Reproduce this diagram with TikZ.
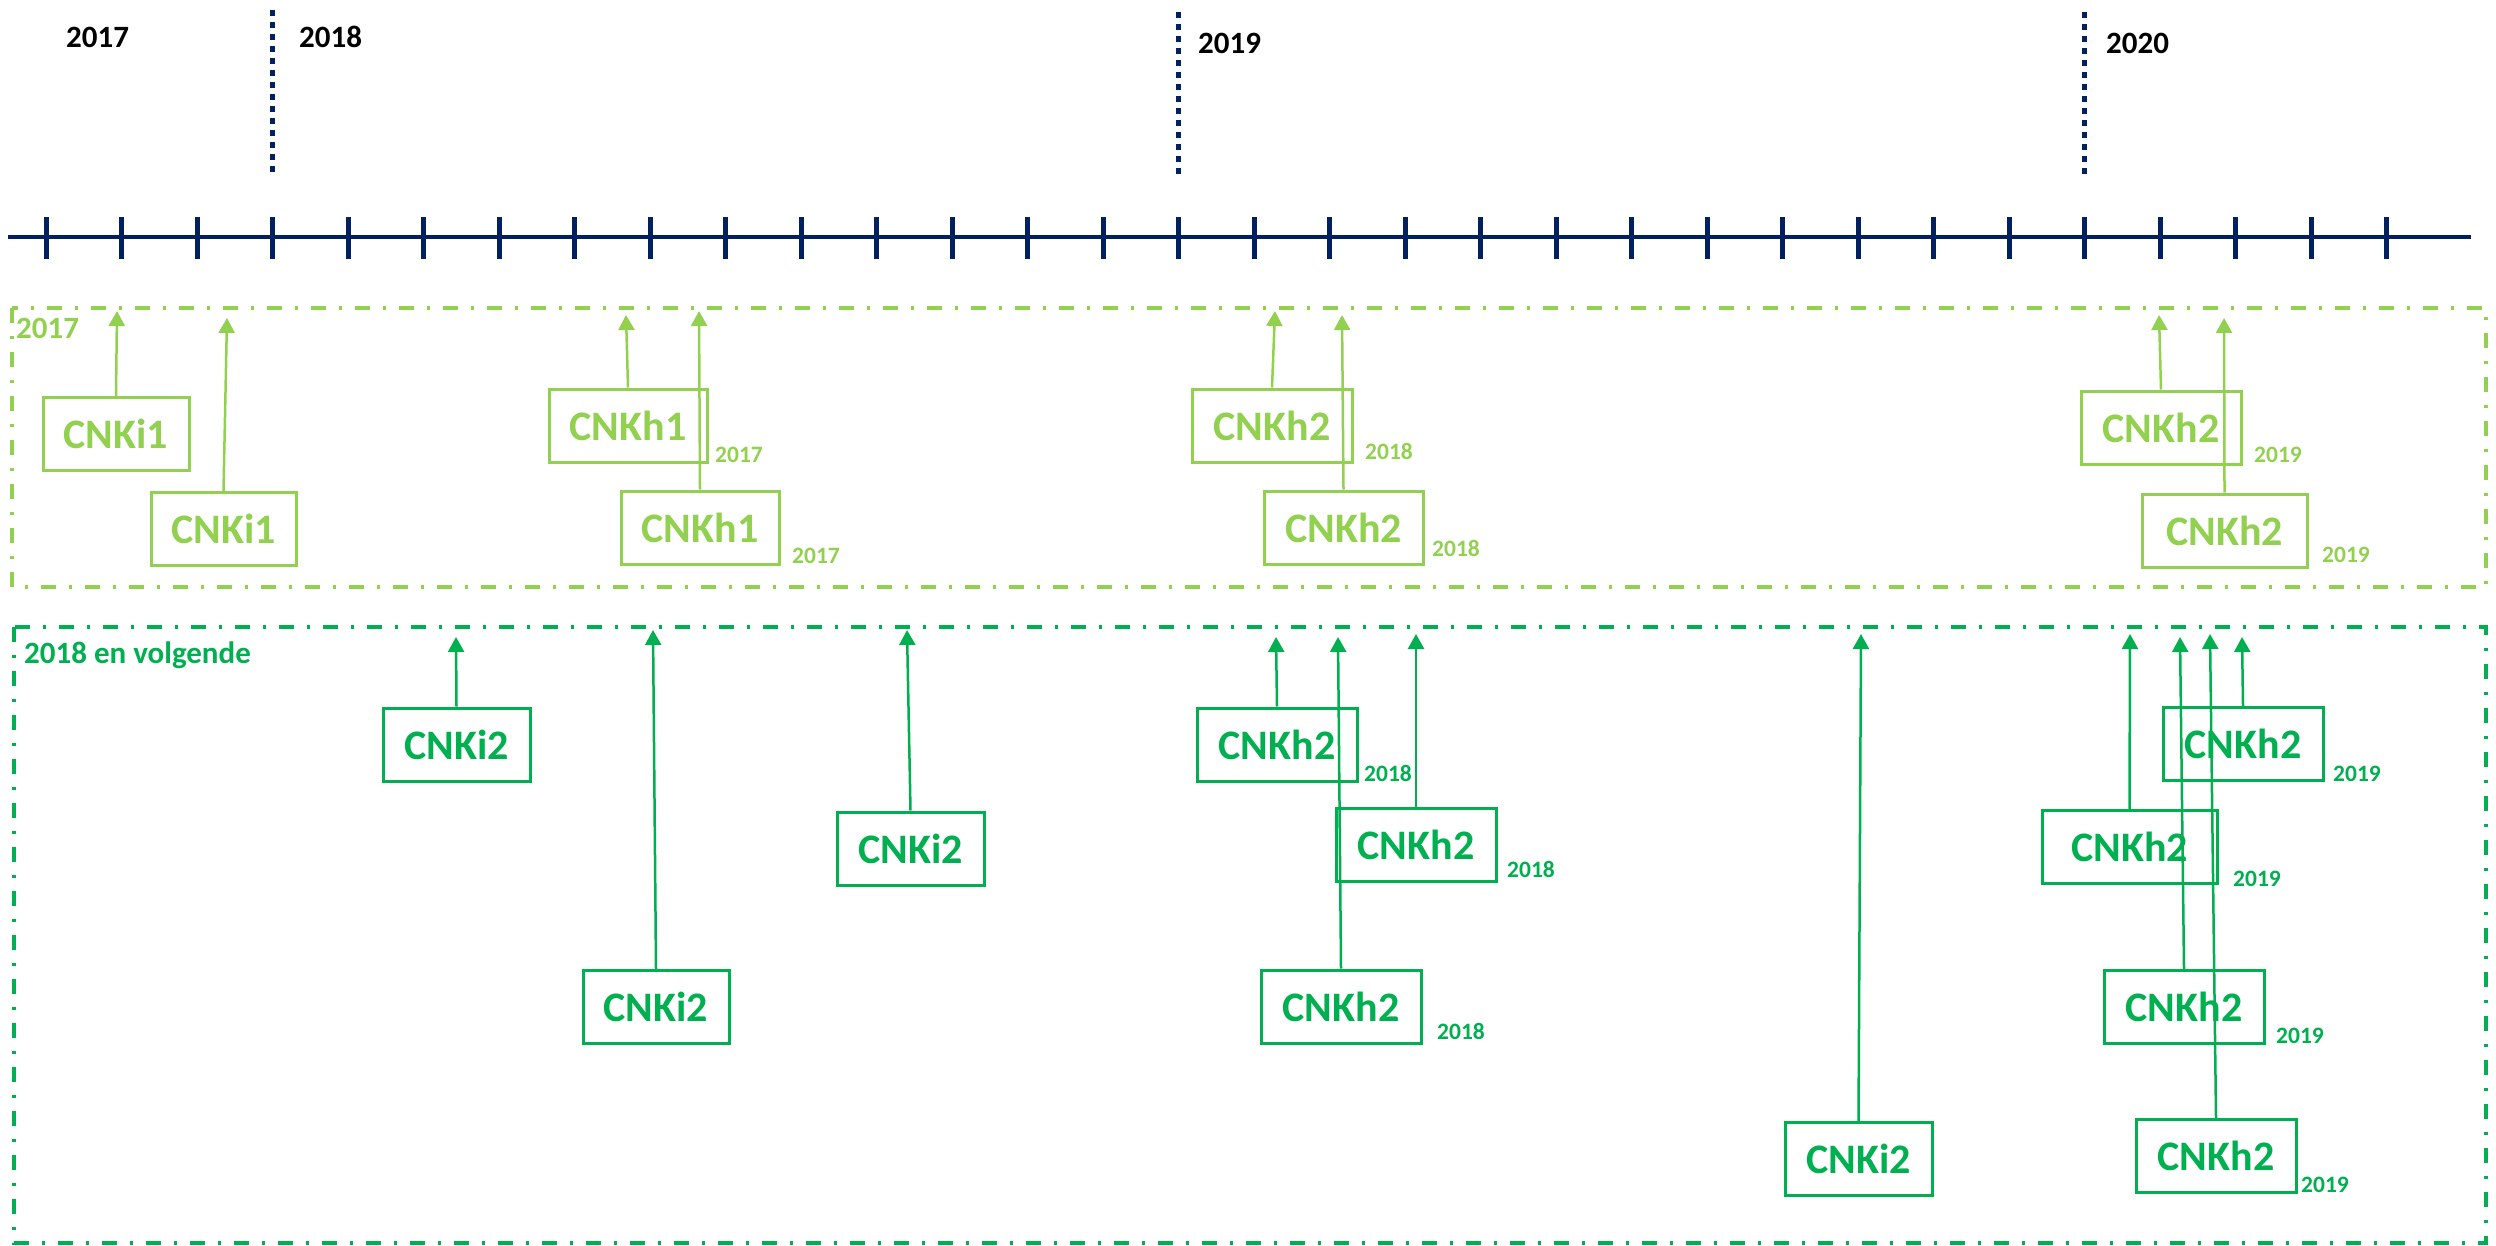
\documentclass[tikz,border=0pt]{standalone}
\usepackage{fontspec}
\setmainfont{Carlito}
\usetikzlibrary{arrows.meta}

\definecolor{navy}{HTML}{002060}
\definecolor{lightg}{HTML}{92D050}
\definecolor{darkg}{HTML}{00B050}

\tikzset{
  px/.style={x=1pt,y=-1pt},
  frame/.style={line width=4pt, dash pattern=on 15pt off 13pt on 3pt off 13pt},
  yearline/.style={draw=navy, line width=5pt, dash pattern=on 6pt off 6pt},
  yearlbl/.style={anchor=base west, inner sep=0pt, font=\fontsize{31}{37}\selectfont\bfseries},
  boxbase/.style={draw, line width=3pt, inner sep=0pt, minimum height=73pt,
    font=\fontsize{42}{50}\selectfont\bfseries},
  lbox/.style={boxbase, draw=lightg, text=lightg},
  dbox/.style={boxbase, draw=darkg, text=darkg},
  sub/.style={anchor=base west, inner sep=0pt, font=\fontsize{23.5}{28}\selectfont\bfseries},
  larr/.style={draw=lightg, line width=2.5pt, -{Triangle[length=15pt,width=16pt]}},
  darr/.style={draw=darkg, line width=2.5pt, -{Triangle[length=15pt,width=16pt]}},
}

\begin{document}
\begin{tikzpicture}[px]
\useasboundingbox (0,0) rectangle (2496,1246);

% time axis with monthly ticks
\draw[navy, line width=3.5pt] (8,237) -- (2471,237);
\foreach \i in {0,...,31}
  \draw[navy, line width=5pt] ({46+75.5*\i},217) -- ({46+75.5*\i},259);

% year separators
\draw[yearline] (272.5,10) -- (272.5,176);
\draw[yearline] (1178.5,12) -- (1178.5,178);
\draw[yearline] (2084.5,12) -- (2084.5,178);
\node[yearlbl] (y17) at (66,48) {2017};
\node[yearlbl] (y18) at (299,48) {2018};
\node[yearlbl] (y19) at (1198,54) {2019};
\node[yearlbl] (y20) at (2106,54) {2020};

% section frames
\draw[frame, lightg] (12,308) rectangle (2486,587);
\node[yearlbl, text=lightg] (s17) at (16,338) {2017};
\draw[frame, darkg] (14,627) rectangle (2486,1243);
\node[yearlbl, text=darkg] (s18) at (24,663) {2018 en volgende};

% --- 2017 section ---
\node[lbox, minimum width=146pt] (li1a) at (116,434) {CNKi1};
\node[lbox, minimum width=145pt] (li1b) at (223.5,529) {CNKi1};
\node[lbox, minimum width=158pt] (lh1a) at (628,425.5) {CNKh1};
\node[lbox, minimum width=158pt] (lh1b) at (700,527.5) {CNKh1};
\node[lbox, minimum width=160pt] (lh2a) at (1272,425.5) {CNKh2};
\node[lbox, minimum width=159pt] (lh2b) at (1343.5,527.5) {CNKh2};
\node[lbox, minimum width=160pt] (lh2c) at (2161,427.5) {CNKh2};
\node[lbox, minimum width=165pt] (lh2d) at (2224.5,530.5) {CNKh2};

\node[sub, text=lightg] (ls1) at (715,462) {2017};
\node[sub, text=lightg] (ls2) at (792,563) {2017};
\node[sub, text=lightg] (ls3) at (1365,459) {2018};
\node[sub, text=lightg] (ls4) at (1432,556) {2018};
\node[sub, text=lightg] (ls5) at (2254,462) {2019};
\node[sub, text=lightg] (ls6) at (2322,562) {2019};

\coordinate (lt1) at (117,311);
\coordinate (lt2) at (227,318);
\coordinate (lt3) at (626,315);
\coordinate (lt4) at (699,311);
\coordinate (lt5) at (1275,311);
\coordinate (lt6) at (1342,315);
\coordinate (lt7) at (2159,315);
\coordinate (lt8) at (2224,318);

\draw[larr] (li1a.north) -- (lt1);
\draw[larr] (li1b.north) -- (lt2);
\draw[larr] (lh1a.north) -- (lt3);
\draw[larr] (lh1b.north) -- (lt4);
\draw[larr] (lh2a.north) -- (lt5);
\draw[larr] (lh2b.north) -- (lt6);
\draw[larr] (lh2c.north) -- (lt7);
\draw[larr] (lh2d.north) -- (lt8);

% --- 2018 en volgende section ---
\node[dbox, minimum width=147pt] (di2a) at (456.5,744.5) {CNKi2};
\node[dbox, minimum width=146pt] (di2b) at (656,1007) {CNKi2};
\node[dbox, minimum width=147pt] (di2c) at (910.5,848.5) {CNKi2};
\node[dbox, minimum width=160pt] (dh2a) at (1277,744.5) {CNKh2};
\node[dbox, minimum width=160pt] (dh2b) at (1416,845) {CNKh2};
\node[dbox, minimum width=160pt] (dh2c) at (1341,1006.5) {CNKh2};
\node[dbox, minimum width=147pt] (di2d) at (1858.5,1159) {CNKi2};
\node[dbox, minimum width=160pt] (dh2d) at (2243,744) {CNKh2};
\node[dbox, minimum width=175pt] (dh2e) at (2129.5,847) {CNKh2};
\node[dbox, minimum width=160pt] (dh2f) at (2184,1007) {CNKh2};
\node[dbox, minimum width=160pt] (dh2g) at (2216,1156) {CNKh2};

\node[sub, text=darkg] (ds1) at (1364,781) {2018};
\node[sub, text=darkg] (ds2) at (1507,877) {2018};
\node[sub, text=darkg] (ds3) at (1437,1039) {2018};
\node[sub, text=darkg] (ds4) at (2333,781) {2019};
\node[sub, text=darkg] (ds5) at (2233,886) {2019};
\node[sub, text=darkg] (ds6) at (2276,1043) {2019};
\node[sub, text=darkg] (ds7) at (2301,1192) {2019};

\coordinate (dt1) at (456,637);
\coordinate (dt2) at (653,630);
\coordinate (dt3) at (907,630);
\coordinate (dt4) at (1276,637);
\coordinate (dt5) at (1416,634);
\coordinate (dt6) at (1338,637);
\coordinate (dt7) at (1861,634);
\coordinate (dt8) at (2242,637);
\coordinate (dt9) at (2130,634);
\coordinate (dt10) at (2180,637);
\coordinate (dt11) at (2210,634);

\draw[darr] (di2a.north) -- (dt1);
\draw[darr] (di2b.north) -- (dt2);
\draw[darr] (di2c.north) -- (dt3);
\draw[darr] (dh2a.north) -- (dt4);
\draw[darr] (dh2b.north) -- (dt5);
\draw[darr] (dh2c.north) -- (dt6);
\draw[darr] (di2d.north) -- (dt7);
\draw[darr] (dh2d.north) -- (dt8);
\draw[darr] (dh2e.north) -- (dt9);
\draw[darr] (dh2f.north) -- (dt10);
\draw[darr] (dh2g.north) -- (dt11);
\end{tikzpicture}
\end{document}
